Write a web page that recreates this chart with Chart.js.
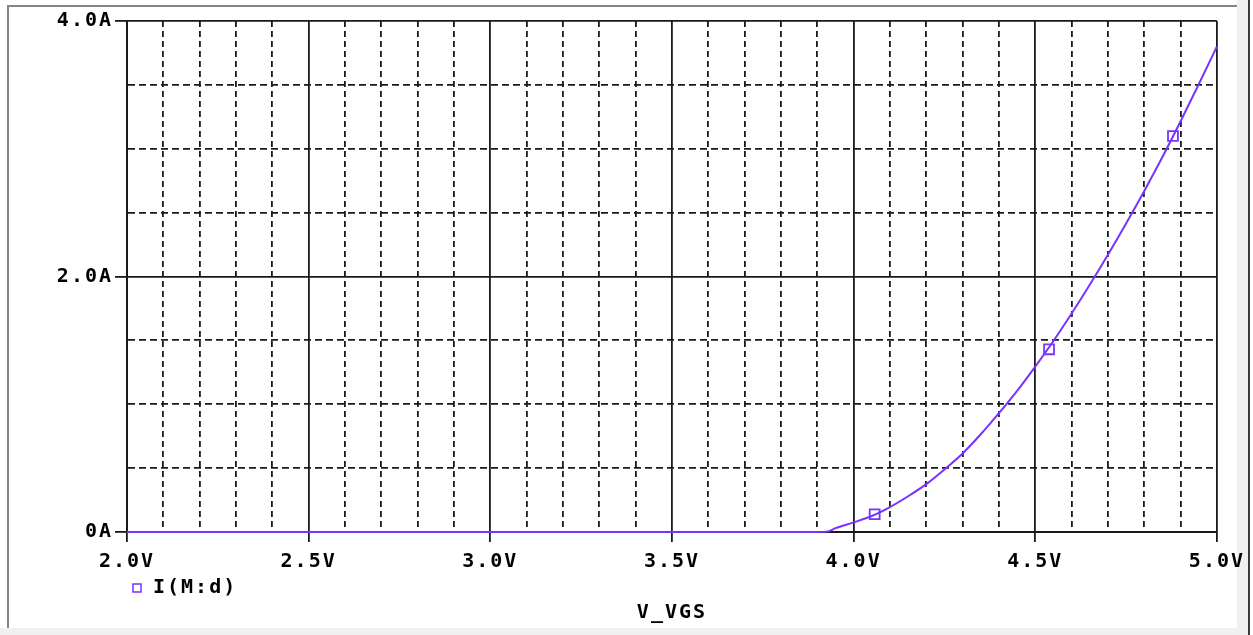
<!DOCTYPE html>
<html>
<head>
<meta charset="utf-8">
<script src="https://cdn.jsdelivr.net/npm/chart.js@4/dist/chart.umd.min.js"></script>
<style>
  html, body { margin: 0; padding: 0; background: #fff; }
  body { width: 1253px; height: 635px; position: relative; overflow: hidden; }
  .edge { position: absolute; }
  #plot { position: absolute; left: 0; top: 0; }
</style>
</head>
<body>
<!-- window frame round the plot -->
<div class="edge" style="left:7px;top:5px;width:1230px;height:2px;background:#858585"></div>
<div class="edge" style="left:7px;top:5px;width:2px;height:623px;background:#858585"></div>
<div class="edge" style="left:1237px;top:0;width:11px;height:635px;background:#f0f0f0"></div>
<div class="edge" style="left:1248px;top:0;width:2px;height:635px;background:#3a3a3a"></div>
<div class="edge" style="left:0;top:628px;width:1248px;height:7px;background:#f0f0f0"></div>
<canvas id="plot" width="1253" height="635"></canvas>
<script>
// sweep of V_VGS (V) and drain current I(M:d) (A)
var vgs = [2.0, 2.5, 3.0, 3.5, 3.9, 3.93, 3.95, 4.0, 4.05, 4.1, 4.15, 4.2, 4.25, 4.3,
           4.35, 4.4, 4.45, 4.5, 4.55, 4.6, 4.65, 4.7, 4.75, 4.8, 4.85, 4.9, 4.95, 5.0];
var idrain = [0, 0, 0, 0, 0, 0.005, 0.03, 0.075, 0.125, 0.195, 0.28, 0.375, 0.49, 0.615,
              0.765, 0.93, 1.105, 1.295, 1.495, 1.71, 1.935, 2.17, 2.415, 2.67, 2.935, 3.215, 3.505, 3.80];

// trace markers PSpice puts on the curve
var markerV = [4.058, 4.538, 4.879];
var markerI = [0.139, 1.43, 3.10];

var xMajor = [2.0, 2.5, 3.0, 3.5, 4.0, 4.5, 5.0];
var yMajor = [0, 2.0, 4.0];

var traceColor = '#7733ff';
var inkColor = '#1a1a1a';
var FONT = '"DejaVu Sans Mono", "Liberation Mono", monospace';

function isXMajor(v) {
  return xMajor.some(function(m) { return Math.abs(m - v) < 1e-6; });
}
function isYMajor(v) {
  return yMajor.some(function(m) { return Math.abs(m - v) < 1e-6; });
}

var pts = vgs.map(function(v, i) { return {x: v, y: idrain[i]}; });
var marks = markerV.map(function(v, i) { return {x: v, y: markerI[i]}; });

// wide letter spacing like the bitmap font of the original
var spacing = {
  id: 'spacing',
  beforeLayout: function(chart) { chart.ctx.letterSpacing = '2px'; },
  beforeDraw: function(chart) { chart.ctx.letterSpacing = '2px'; }
};

Chart.defaults.font.family = FONT;
Chart.defaults.font.weight = 'bold';
Chart.defaults.font.size = 20;
Chart.defaults.color = '#000';

new Chart(document.getElementById('plot'), {
  type: 'line',
  data: {
    datasets: [
      {
        label: 'I(M:d)',
        data: pts,
        clip: 4,
        borderColor: traceColor,
        borderWidth: 2,
        pointRadius: 0,
        pointStyle: 'rect',
        pointBorderColor: traceColor,
        pointBackgroundColor: '#fff',
        pointBorderWidth: 1.5,
        cubicInterpolationMode: 'monotone',
        fill: false
      },
      {
        label: 'markers',
        data: marks,
        showLine: false,
        pointStyle: 'rect',
        pointRadius: 7,
        pointBorderWidth: 1.8,
        pointBorderColor: traceColor,
        pointBackgroundColor: '#fff'
      }
    ]
  },
  options: {
    responsive: false,
    animation: false,
    layout: { padding: { left: 0, right: 33, top: 21, bottom: 17 } },
    plugins: {
      tooltip: { enabled: false },
      legend: {
        position: 'bottom',
        align: 'start',
        fullSize: false,
        labels: {
          usePointStyle: true,
          boxWidth: 12,
          boxHeight: 8,
          padding: 4,
          color: '#000',
          filter: function(item) { return item.datasetIndex === 0; }
        }
      },
      title: {
        display: true,
        position: 'bottom',
        fullSize: false,
        text: 'V_VGS',
        color: '#000',
        padding: 0,
        font: { size: 20, weight: 'bold', lineHeight: 0.5 }
      }
    },
    scales: {
      x: {
        type: 'linear',
        min: 2.0,
        max: 5.0,
        afterFit: function(s) { s.height = 42; },
        ticks: {
          stepSize: 0.1,
          autoSkip: false,
          maxRotation: 0,
          padding: 8,
          callback: function(v) { return isXMajor(v) ? v.toFixed(1) + 'V' : ''; }
        },
        grid: {
          color: inkColor,
          lineWidth: 1.8,
          tickLength: 10,
          tickWidth: 1.8,
          tickColor: function(c) { return c.tick && isXMajor(c.tick.value) ? inkColor : 'rgba(0,0,0,0)'; }
        },
        border: {
          color: inkColor,
          width: 2,
          z: -1,
          dash: function(c) { return c.tick && !isXMajor(c.tick.value) ? [6, 4] : []; }
        }
      },
      y: {
        type: 'linear',
        min: 0,
        max: 4.0,
        afterFit: function(s) { s.width = 127; },
        ticks: {
          stepSize: 0.5,
          autoSkip: false,
          padding: 2,
          callback: function(v) {
            if (!isYMajor(v)) return '';
            return v === 0 ? '0A' : v.toFixed(1) + 'A';
          }
        },
        grid: {
          color: inkColor,
          lineWidth: 1.8,
          tickLength: 12,
          tickWidth: 1.8,
          tickColor: function(c) { return c.tick && isYMajor(c.tick.value) ? inkColor : 'rgba(0,0,0,0)'; }
        },
        border: {
          color: inkColor,
          width: 2,
          z: -1,
          dash: function(c) { return c.tick && !isYMajor(c.tick.value) ? [7, 4] : []; }
        }
      }
    }
  },
  plugins: [spacing]
});
</script>
</body>
</html>
